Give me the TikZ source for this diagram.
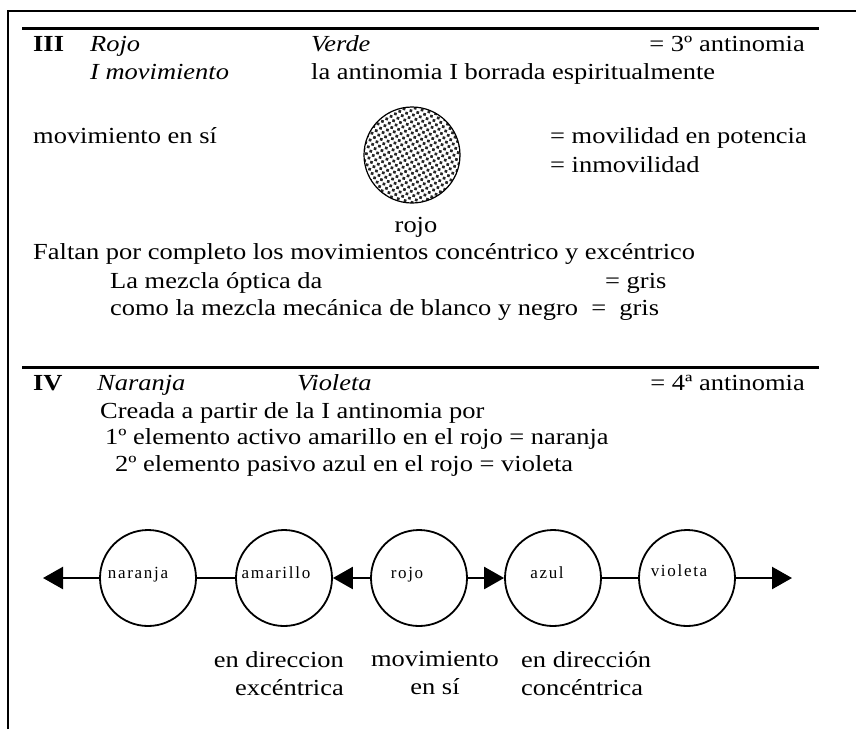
\documentclass[tikz,border=0pt]{standalone}
\usepackage{fontspec}
\setmainfont{Liberation Serif}[FakeStretch=1.15]
\newfontfamily\ringfont{Liberation Serif}[LetterSpace=10]
\usetikzlibrary{positioning,arrows.meta,patterns.meta}
\tikzstyle{txt} = [anchor=base west, inner sep=0pt]
\tikzstyle{txtr} = [anchor=base east, inner sep=0pt]
\tikzstyle{rule} = [line width=3pt]
\tikzstyle{ring} = [draw, circle, line width=1.8pt, minimum size=96pt, inner sep=0pt]
\tikzstyle{ringtxt} = [anchor=base, inner sep=0pt, font=\ringfont\fontsize{17}{19}\selectfont]
\tikzstyle{link} = [line width=2.4pt]
\tikzstyle{push} = [line width=2.4pt, -{Triangle[length=20pt,width=22pt]}]
\tikzstyle{under} = [inner sep=0pt, font=\fontsize{23}{28}\selectfont]

\begin{document}
\begin{tikzpicture}[x=1pt, y=-1pt, font=\fontsize{23}{28}\selectfont]
			\useasboundingbox (0,0) rectangle (856,729);
			\draw[line width=1.5pt] (8,729) -- (8,11) -- (856,11);
			% III
			\draw[rule] (22,28) -- (819,28);
			\node[txt] (n3) at (33,51) {\bfseries III};
			\node[txt] (rojo) at (90,51) {\itshape Rojo};
			\node[txt] (verde) at (311,51) {\itshape Verde};
			\node[txtr] (ant3) at (805,51) {= 3º antinomia};
			\node[txt] (mov1) at (90,79) {\itshape I movimiento};
			\node[txt] (borrada) at (311,79) {la antinomia I borrada espiritualmente};
			\node[txt] (ensi) at (33,143) {movimiento en sí};
			\node[circle, draw, line width=1.2pt, minimum size=96pt, pattern={Dots[distance=5pt, radius=1.9pt, angle=30]}, pattern color=black!85] (disco) at (412,155) {};
			\node[anchor=base, inner sep=0pt] (disconame) at (416,232) {rojo};
			\node[txt] (potencia) at (550,143) {= movilidad en potencia};
			\node[txt] (inmov) at (550,172) {= inmovilidad};
			\node[txt] (faltan) at (33,259) {Faltan por completo los movimientos concéntrico y excéntrico};
			\node[txt] (optica) at (110,288) {La mezcla óptica da};
			\node[txt] (gris1) at (605,288) {= gris};
			\node[txt] (mecanica) at (110,315) {como la mezcla mecánica de blanco y negro ~=~ gris};
			% IV
			\draw[rule] (22,367) -- (819,367);
			\node[txt] (n4) at (33,390) {\bfseries IV};
			\node[txt] (naranjaT) at (97,390) {\itshape Naranja};
			\node[txt] (violetaT) at (297,390) {\itshape Violeta};
			\node[txtr] (ant4) at (805,390) {= 4ª antinomia};
			\node[txt] (creada) at (100,418) {Creada a partir de la I antinomia por};
			\node[txt] (activo) at (105,444) {1º elemento activo amarillo en el rojo = naranja};
			\node[txt] (pasivo) at (115,471) {2º elemento pasivo azul en el rojo = violeta};
			% circles
			\node[ring] (naranja) at (148,578) {};
			\node[ring] (amarillo) at (284,578) {};
			\node[ring] (rojoc) at (419,578) {};
			\node[ring] (azul) at (553,578) {};
			\node[ring] (violeta) at (687,578) {};
			\node[ringtxt] at ([xshift=-10pt]naranja.center) {naranja};
			\node[ringtxt] at ([xshift=-8pt]amarillo.center) {amarillo};
			\node[ringtxt] at ([xshift=-12pt]rojoc.center) {rojo};
			\node[ringtxt] at ([xshift=-6pt]azul.center) {azul};
			\node[ringtxt] at ([xshift=-8pt, yshift=2pt]violeta.center) {violeta};
			\coordinate (izq) at (43,578);
			\coordinate (der) at (792,578);
			\draw[push] (naranja) -- (izq);
			\draw[link] (naranja) -- (amarillo);
			\draw[push] (rojoc) -- (amarillo);
			\draw[push] (rojoc) -- (azul);
			\draw[link] (azul) -- (violeta);
			\draw[push] (violeta) -- (der);
			\node[under, align=right, anchor=north east] (exc) at (344,651) {en direccion\\excéntrica};
			\node[under, align=center, anchor=north] (enmov) at (435,651) {movimiento\\en sí};
			\node[under, align=left, anchor=north west] (conc) at (521,651) {en dirección\\concéntrica};
		\end{tikzpicture}
\end{document}
